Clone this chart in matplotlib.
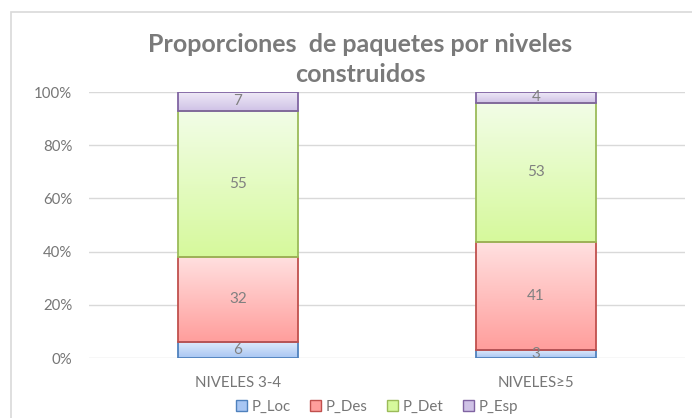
import matplotlib.pyplot as plt
import numpy as np
from matplotlib.colors import LinearSegmentedColormap
from matplotlib.patches import Rectangle, Patch

categories = ['NIVELES 3-4', 'NIVELES≥5']
series = ['P_Loc', 'P_Des', 'P_Det', 'P_Esp']
p_loc = [6, 3]
p_des = [32, 41]
p_det = [55, 53]
p_esp = [7, 4]

# top colour, bottom colour, edge colour
styles = {
    'P_Loc': ('#dde9fb', '#a8c6f3', '#4f81bd'),
    'P_Des': ('#ffe0e0', '#ff9e9c', '#c0504d'),
    'P_Det': ('#f2fde7', '#d6f99c', '#9bbb59'),
    'P_Esp': ('#efe9f7', '#cfc2e6', '#8064a2'),
}

plt.rcParams['font.family'] = ['Lato', 'DejaVu Sans']
grey = '#767676'

fig = plt.figure(figsize=(6.92, 4.18), dpi=100)
fig.patches.append(Rectangle((11 / 692, -0.1), 1.2, 1.1 - 12 / 418, transform=fig.transFigure,
                             fill=False, edgecolor='#d9d9d9', linewidth=1.2))
ax = fig.add_axes([89 / 692, 1 - 358 / 418, (685 - 89) / 692, (358 - 92) / 418])

data = np.array([p_loc, p_des, p_det, p_esp], dtype=float)
pct = data / data.sum(axis=0) * 100
x = np.arange(len(categories))
bottom = np.zeros(len(categories))
for name, vals, raw in zip(series, pct, data):
    top_c, bot_c, edge_c = styles[name]
    cmap = LinearSegmentedColormap.from_list(name, [bot_c, top_c])
    bars = ax.bar(x, vals, 0.4, bottom=bottom, color='none', edgecolor=edge_c,
                  linewidth=1.3, zorder=3)
    for bar, r in zip(bars, raw):
        bx, by = bar.get_x(), bar.get_y()
        bw, bh = bar.get_width(), bar.get_height()
        grad = np.linspace(0, 1, 100).reshape(-1, 1)
        im = ax.imshow(grad, cmap=cmap, aspect='auto', origin='lower',
                       extent=(bx, bx + bw, by, by + bh), zorder=2)
        im.set_clip_path(bar)
        ax.text(bx + bw / 2, by + bh / 2, f'{int(r)}', ha='center', va='center',
                fontsize=11, color='#808080', zorder=4)
    bottom += vals

ax.set_xlim(-0.5, 1.5)
ax.set_ylim(0, 100)
ax.set_yticks(np.arange(0, 101, 20))
ax.set_yticklabels([f'{t}%' for t in range(0, 101, 20)])
ax.set_xticks(x)
ax.set_xticklabels(categories)
ax.tick_params(length=0, labelsize=10.8, colors=grey, pad=12)
ax.tick_params(axis='x', pad=13)
ax.yaxis.grid(True, color='#d9d9d9', linewidth=1)
ax.set_axisbelow(True)
for s in ax.spines.values():
    s.set_visible(False)

fig.text(360 / 692, 1 - 45 / 418, 'Proporciones  de paquetes por niveles', ha='center',
         va='center', fontsize=18, fontweight='bold', color='#7a7a7a')
fig.text(360 / 692, 1 - 75 / 418, 'construidos', ha='center',
         va='center', fontsize=18, fontweight='bold', color='#7a7a7a')

handles = [Patch(facecolor=styles[n][1], edgecolor=styles[n][2]) for n in series]
fig.legend(handles, series, loc='center', bbox_to_anchor=(377 / 692, 1 - 407 / 418), ncol=4,
           frameon=False, fontsize=10.8, labelcolor=grey, handlelength=0.75, handleheight=0.75,
           handletextpad=0.3, columnspacing=1.3)

fig.savefig('out.png', dpi=100)
